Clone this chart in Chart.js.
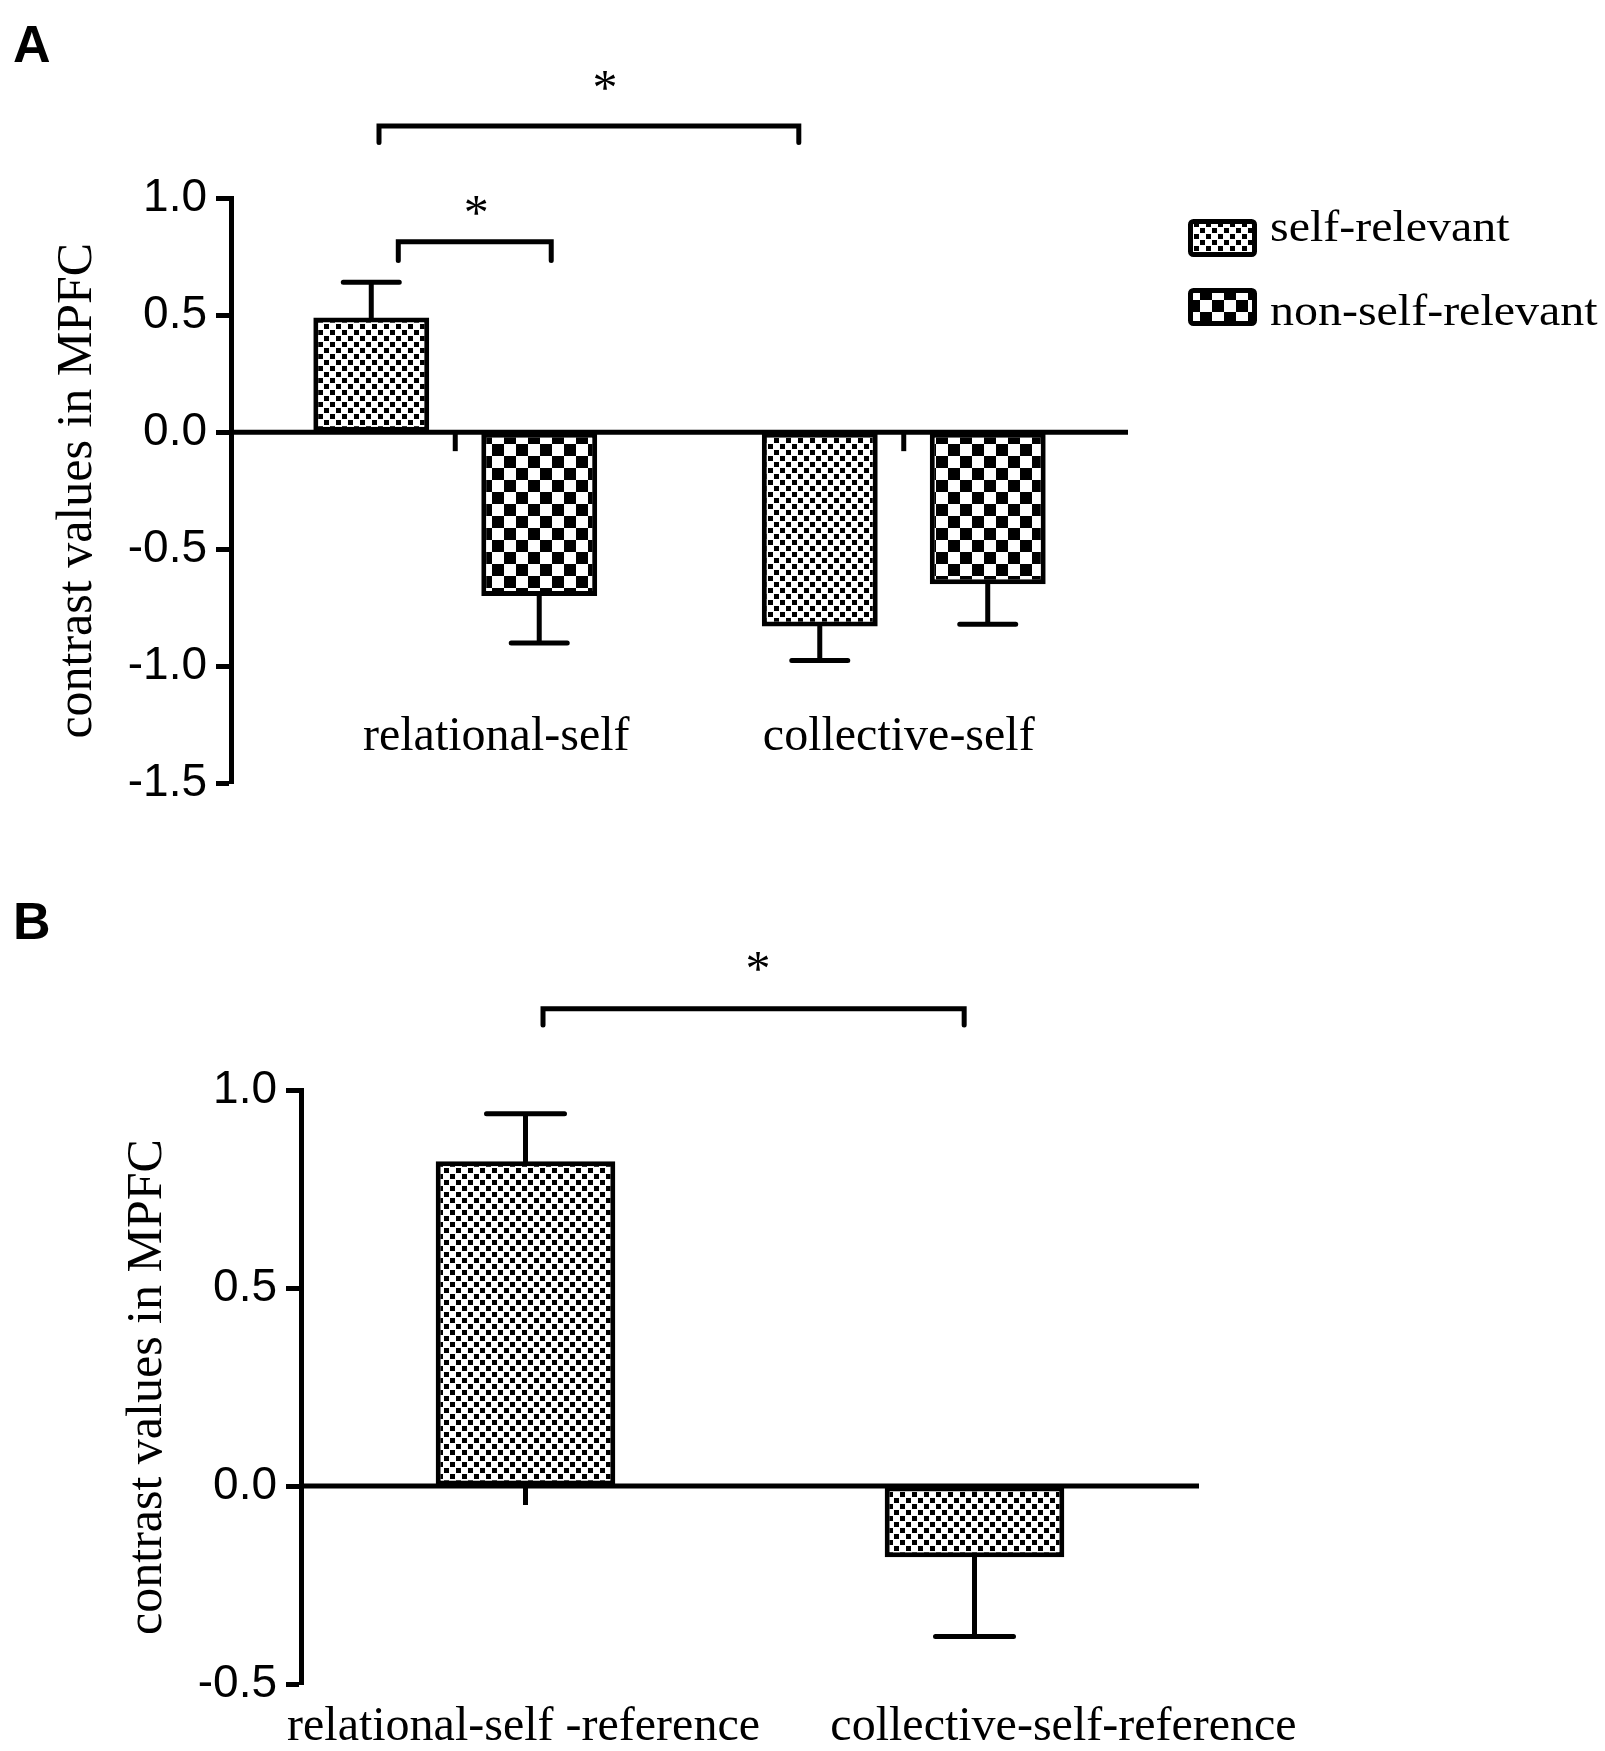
<!DOCTYPE html>
<html>
<head>
<meta charset="utf-8">
<script src="https://cdn.jsdelivr.net/npm/chart.js@4.4.1/dist/chart.umd.min.js"></script>
<style>
  html, body { margin: 0; padding: 0; background: #fff; }
  #wrapA { position: absolute; left: 0; top: 0; width: 1605px; height: 820px; }
  #wrapB { position: absolute; left: 0; top: 820px; width: 1605px; height: 931px; }
</style>
</head>
<body>
<div id="wrapA"><canvas id="chartA" width="1605" height="820"></canvas></div>
<div id="wrapB"><canvas id="chartB" width="1605" height="931"></canvas></div>
<script>
// Panel A
const groupsA = ["relational-self", "collective-self"];
const seriesNames = ["self-relevant", "non-self-relevant"];
const selfRelevant = [0.49, -0.83];
const selfRelevantSem = [0.15, 0.145];
const nonSelfRelevant = [-0.70, -0.65];
const nonSelfRelevantSem = [0.20, 0.17];
const ticksA = [-1.5, -1.0, -0.5, 0.0, 0.5, 1.0];

// Panel B
const groupsB = ["relational-self -reference", "collective-self-reference"];
const selfRefB = [0.82, -0.18];
const selfRefSemB = [0.12, 0.20];
const ticksB = [-0.5, 0.0, 0.5, 1.0];

const SANS = '"Liberation Sans", Arial, sans-serif';
const SERIF = '"Liberation Serif", "Times New Roman", serif';

function checks(cell, ink) {
  const c = document.createElement("canvas");
  c.width = c.height = cell * 2;
  const g = c.getContext("2d");
  g.fillStyle = "#fff";
  g.fillRect(0, 0, cell * 2, cell * 2);
  g.fillStyle = "#000";
  g.fillRect(0, 0, ink, ink);
  g.fillRect(cell, cell, ink, ink);
  return g.createPattern(c, "repeat");
}
const fineChecks = checks(6, 5);
const coarseChecks = checks(12, 12);

// draws error bars, zero line, brackets, labels, legend
const decor = {
  id: "decor",
  beforeDatasetsDraw(chart, args, o) {
    const { ctx } = chart;
    const x = chart.scales.x, y = chart.scales.y;
    const y0 = y.getPixelForValue(0);
    ctx.save();
    ctx.strokeStyle = "#000";
    ctx.lineWidth = 5;
    chart.data.labels.forEach((l, i) => {
      const px = x.getPixelForValue(i);
      ctx.beginPath();
      ctx.moveTo(px, y0);
      ctx.lineTo(px, y0 + 19);
      ctx.stroke();
    });
    ctx.restore();
  },
  afterDatasetsDraw(chart, args, o) {
    const { ctx, chartArea } = chart;
    const x = chart.scales.x, y = chart.scales.y;
    const y0 = y.getPixelForValue(0);
    const step = x.getPixelForValue(1) - x.getPixelForValue(0);
    ctx.save();
    ctx.strokeStyle = "#000";
    ctx.fillStyle = "#000";
    ctx.lineWidth = 5;

    // zero line
    ctx.beginPath();
    ctx.moveTo(chartArea.left, y0);
    ctx.lineTo(chartArea.right, y0);
    ctx.stroke();

    // error bars
    ctx.lineCap = "round";
    chart.data.datasets.forEach((ds, i) => {
      chart.getDatasetMeta(i).data.forEach((el, j) => {
        const v = ds.data[j];
        const end = v + Math.sign(v) * ds.sem[j];
        const p1 = y.getPixelForValue(v), p2 = y.getPixelForValue(end);
        ctx.beginPath();
        ctx.moveTo(el.x, p1);
        ctx.lineTo(el.x, p2);
        ctx.moveTo(el.x - o.capWidth / 2, p2);
        ctx.lineTo(el.x + o.capWidth / 2, p2);
        ctx.stroke();
      });
    });

    // significance brackets
    ctx.font = "50px " + SERIF;
    ctx.textAlign = "center";
    ctx.textBaseline = "alphabetic";
    o.brackets.forEach(b => {
      const xa = x.getPixelForValue(0) + b.from * step;
      const xb = x.getPixelForValue(0) + b.to * step;
      const yt = y.getPixelForValue(b.at);
      const yd = y.getPixelForValue(b.at - b.drop);
      ctx.beginPath();
      ctx.moveTo(xa, yd);
      ctx.lineTo(xa, yt);
      ctx.lineTo(xb, yt);
      ctx.lineTo(xb, yd);
      ctx.stroke();
      ctx.fillText("*", x.getPixelForValue(0) + b.starX * step, y.getPixelForValue(b.starAt) + 24);
    });

    // category labels
    ctx.font = "48px " + SERIF;
    ctx.textBaseline = "middle";
    chart.data.labels.forEach((l, i) => {
      ctx.fillText(l, x.getPixelForValue(i) + o.labelNudge[i], y.getPixelForValue(o.labelAt));
    });

    // legend
    if (o.legend) {
      const L = o.legend;
      ctx.lineCap = "butt";
      ctx.lineJoin = "round";
      chart.data.datasets.forEach((ds, i) => {
        const bx = chartArea.right + L.dx, by = chartArea.top + L.dy + i * L.rowGap;
        ctx.beginPath();
        if (ctx.roundRect) ctx.roundRect(bx + 2.5, by + 2.5, L.boxW - 5, L.boxH - 5, 3);
        else ctx.rect(bx + 2.5, by + 2.5, L.boxW - 5, L.boxH - 5);
        ctx.fillStyle = ds.backgroundColor;
        ctx.fill();
        ctx.stroke();
        // legend text is slightly wide in the original
        ctx.save();
        ctx.translate(bx + L.textDx, chartArea.top + L.textDy + i * L.textGap);
        ctx.scale(L.stretch, 1);
        ctx.fillStyle = "#000";
        ctx.font = L.size + "px " + SERIF;
        ctx.textAlign = "left";
        ctx.textBaseline = "alphabetic";
        ctx.fillText(ds.label, 0, 0);
        ctx.restore();
      });
    }

    // panel letter
    ctx.fillStyle = "#000";
    ctx.font = "bold 52px " + SANS;
    ctx.textAlign = "left";
    ctx.textBaseline = "alphabetic";
    ctx.fillText(o.letter, 13, o.letterY);
    ctx.restore();
  }
};

function yAxis(ticks, width, titlePad) {
  return {
    min: ticks[0],
    max: ticks[ticks.length - 1],
    afterBuildTicks: s => { s.ticks = ticks.map(v => ({ value: v })); },
    afterFit: s => { s.width = width; },
    border: { display: true, color: "#000", width: 5 },
    grid: { drawOnChartArea: false, drawTicks: true, tickLength: 15, tickWidth: 5, tickColor: "#000" },
    ticks: {
      color: "#000",
      padding: 9,
      font: { family: SANS, size: 46 },
      callback: v => Number(v).toFixed(1)
    },
    title: {
      display: true,
      text: "contrast values in MPFC",
      color: "#000",
      font: { family: SERIF, size: 50 },
      padding: { top: titlePad, bottom: 0 }
    }
  };
}

const chartA = new Chart(document.getElementById("chartA"), {
  type: "bar",
  data: {
    labels: groupsA,
    datasets: [
      {
        label: seriesNames[0],
        data: selfRelevant,
        sem: selfRelevantSem,
        backgroundColor: fineChecks,
        borderColor: "#000",
        borderWidth: 5,
        borderSkipped: false
      },
      {
        label: seriesNames[1],
        data: nonSelfRelevant,
        sem: nonSelfRelevantSem,
        backgroundColor: coarseChecks,
        borderColor: "#000",
        borderWidth: 5,
        borderSkipped: false
      }
    ]
  },
  options: {
    responsive: false,
    animation: false,
    devicePixelRatio: 1,
    layout: { padding: { left: 0, right: 477, top: 198, bottom: 26 } },
    datasets: { bar: { categoryPercentage: 0.749, barPercentage: 0.69 } },
    scales: {
      x: { display: false },
      y: yAxis(ticksA, 231, 48)
    },
    plugins: {
      legend: { display: false },
      tooltip: { enabled: false },
      decor: {
        letter: "A",
        letterY: 62,
        capWidth: 56,
        labelAt: -1.305,
        labelNudge: [41, -5],
        brackets: [
          { from: -0.17, to: 0.766, at: 1.308, drop: 0.071, starX: 0.334, starAt: 1.506 },
          { from: -0.127, to: 0.214, at: 0.813, drop: 0.08, starX: 0.047, starAt: 0.968 }
        ],
        legend: { dx: 60, dy: 21, rowGap: 69, boxW: 69, boxH: 38, textDx: 82, textDy: 43, textGap: 84, size: 44, stretch: 1.09 }
      }
    }
  },
  plugins: [decor]
});

const chartB = new Chart(document.getElementById("chartB"), {
  type: "bar",
  data: {
    labels: groupsB,
    datasets: [
      {
        label: seriesNames[0],
        data: selfRefB,
        sem: selfRefSemB,
        backgroundColor: fineChecks,
        borderColor: "#000",
        borderWidth: 5,
        borderSkipped: false
      }
    ]
  },
  options: {
    responsive: false,
    animation: false,
    devicePixelRatio: 1,
    layout: { padding: { left: 0, right: 406, top: 270, bottom: 67 } },
    datasets: { bar: { categoryPercentage: 0.8, barPercentage: 0.5 } },
    scales: {
      x: { display: false },
      y: yAxis(ticksB, 301, 118)
    },
    plugins: {
      legend: { display: false },
      tooltip: { enabled: false },
      decor: {
        letter: "B",
        letterY: 119,
        capWidth: 78,
        labelAt: -0.61,
        labelNudge: [-2, 89],
        brackets: [
          { from: 0.039, to: 0.977, at: 1.205, drop: 0.041, starX: 0.518, starAt: 1.326 }
        ],
        legend: null
      }
    }
  },
  plugins: [decor]
});
</script>
</body>
</html>
